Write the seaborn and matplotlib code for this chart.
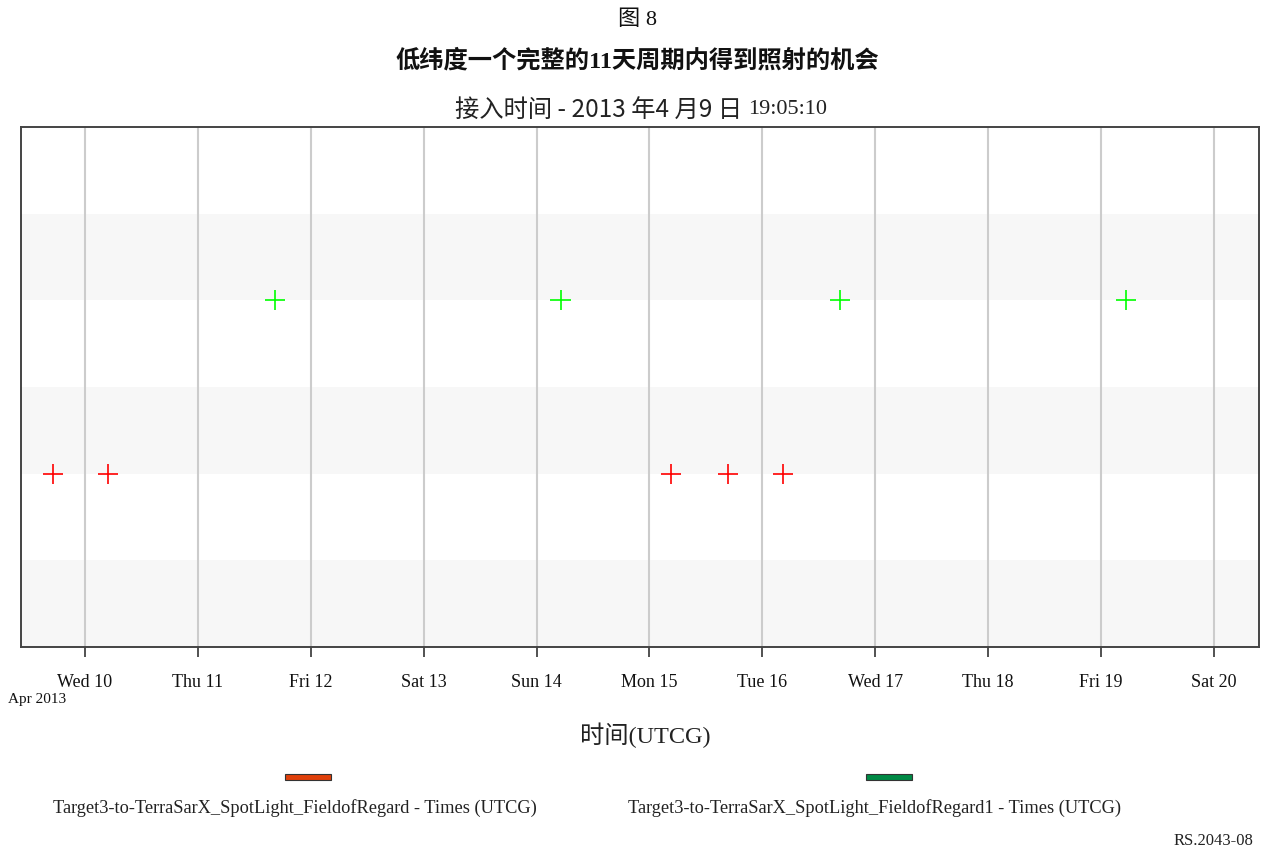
import matplotlib
matplotlib.use("Agg")
import matplotlib.pyplot as plt
import matplotlib.dates as mdates
from matplotlib.patches import Rectangle
import pandas as pd
import seaborn as sns

# Access start times for each field-of-regard (UTCG)
regard_times = [
    "2013-04-09 17:12", "2013-04-10 04:54", "2013-04-15 04:41",
    "2013-04-15 16:47", "2013-04-16 04:28",
]
regard1_times = [
    "2013-04-11 16:22", "2013-04-14 05:06", "2013-04-16 16:35",
    "2013-04-19 05:18",
]
series_names = [
    "Target3-to-TerraSarX_SpotLight_FieldofRegard - Times (UTCG)",
    "Target3-to-TerraSarX_SpotLight_FieldofRegard1 - Times (UTCG)",
]
series_rows = [2, 4]
marker_colors = ["#ff0000", "#00ff00"]
legend_colors = ["#e0400a", "#008a45"]
x_start, x_end = "2013-04-09 10:24", "2013-04-20 09:36"

sns.set_theme(style="white")
plt.rcParams["font.family"] = ["Liberation Serif", "Noto Sans CJK SC"]

records = []
for name, row, times in zip(series_names, series_rows, [regard_times, regard1_times]):
    for t in times:
        records.append({"time": pd.Timestamp(t), "row": row, "series": name})
df = pd.DataFrame(records)

fig = plt.figure(figsize=(12.63, 8.51), dpi=100)
ax = fig.add_axes([21 / 1263, 1 - 647 / 851, (1259 - 21) / 1263, (647 - 127) / 851])

# alternating row shading
for lo in (0, 2, 4):
    ax.axhspan(lo, lo + 1, color="#f7f7f7", lw=0, zorder=0)

sns.scatterplot(data=df, x="time", y="row", hue="series", hue_order=series_names,
                palette=dict(zip(series_names, marker_colors)), marker="+",
                s=210, linewidth=1.2, legend=False, ax=ax, zorder=3)

ax.set_xlim(pd.Timestamp(x_start), pd.Timestamp(x_end))
ax.set_ylim(0, 6)
ax.set_yticks([])
ax.set_xlabel("")
ax.set_ylabel("")
ax.xaxis.set_major_locator(mdates.DayLocator())
ax.xaxis.set_major_formatter(mdates.DateFormatter("%a %d"))
ax.grid(axis="x", color="#cccccc", linewidth=1.5, zorder=1)
ax.set_axisbelow(True)
ax.tick_params(axis="x", bottom=True, direction="out", length=7.5, width=1.2,
               color="#333333", pad=12, labelsize=13, labelcolor="#111111")
for sp in ax.spines.values():
    sp.set_color("#444444")
    sp.set_linewidth(1.4)

# titles
fig.text(637 / 1263, 1 - 20 / 851, "图 8", ha="center", va="center", fontsize=16,
         color="#111111")
fig.text(637 / 1263, 1 - 61 / 851, "低纬度一个完整的11天周期内得到照射的机会",
         ha="center", va="center", fontsize=17.5, fontweight="bold", color="#111111")

sub1 = fig.text(0, 1 - 111 / 851, "接入时间 - 2013 年4 月9 日 ", ha="left", va="center",
                fontsize=17.5, family=["Noto Sans CJK SC"], color="#222222")
sub2 = fig.text(0, 1 - 110 / 851, "19:05:10", ha="left", va="center",
                fontsize=16, color="#222222")
fig.canvas.draw()
r = fig.canvas.get_renderer()
w1 = sub1.get_window_extent(r).width
w2 = sub2.get_window_extent(r).width
x0 = 641 - (w1 + w2) / 2
sub1.set_x(x0 / 1263)
sub2.set_x((x0 + w1) / 1263)

fig.text(8 / 1263, 1 - 699 / 851, "Apr 2013", ha="left", va="center", fontsize=11,
         color="#111111")
fig.text(645 / 1263, 1 - 735 / 851, "时间(UTCG)", ha="center", va="center",
         fontsize=17.5, color="#222222")

# legend: colour bar above each series name
for cx, lx, col, name in zip([308, 889], [295, 874], legend_colors, series_names):
    fig.patches.append(Rectangle(((cx - 23) / 1263, 1 - 780 / 851), 46 / 1263, 6 / 851,
                                 transform=fig.transFigure, facecolor=col,
                                 edgecolor="#333333", linewidth=0.8))
    fig.text(lx / 1263, 1 - 808 / 851, name, ha="center", va="center", fontsize=13.2,
             color="#222222")

fig.text(1253 / 1263, 1 - 841 / 851, "RS.2043-08", ha="right", va="center",
         fontsize=12, color="#222222")

fig.savefig("out.png", dpi=100)
